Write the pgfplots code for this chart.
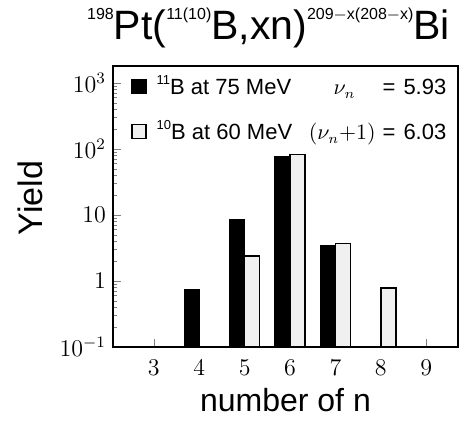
\documentclass[border=0pt]{standalone}
\usepackage{pgfplots}
\pgfplotsset{compat=1.18}
\usepackage{fontspec}
\setmainfont{Liberation Sans}
\newcommand{\sups}[1]{\raisebox{10pt}{\fontsize{8}{9}\selectfont #1}}
\newcommand{\lsup}[1]{\raisebox{5pt}{\fontsize{6.5}{7}\selectfont #1}}
\begin{document}
\begin{tikzpicture}
\useasboundingbox (0,0) rectangle (234.5pt,212pt);
\begin{axis}[
  at={(56.5pt,38.5pt)}, anchor=south west,
  scale only axis, width=172.5pt, height=140.5pt,
  ymode=log, log origin=infty,
  xmin=2.1, xmax=9.7, ymin=0.1, ymax=1810,
  ybar, bar width=0.33,
  xtick={3,4,5,6,7,8,9},
  ytick={0.1,1,10,100,1000},
  yticklabels={$10^{-1}$,$1$,$10$,$10^{2}$,$10^{3}$},
  tick pos=left, tick align=inside,
  axis line style={line width=0.8pt},
  major tick length=4pt, minor tick length=2pt,
  yticklabel style={font=\fontsize{12}{14}\selectfont},
  xticklabel style={font=\fontsize{13}{15}\selectfont, yshift=-3pt},
  xlabel={number of n},
  ylabel={Yield},
  xlabel style={font=\fontsize{16}{18}\selectfont, at={(axis description cs:0.5,-0.189)}, anchor=center},
  ylabel style={font=\fontsize{17}{19}\selectfont, at={(axis description cs:-0.241,0.53)}, anchor=center},
  title={\sups{198}Pt(\sups{11(10)}B,xn)\sups{209$-$x(208$-$x)}Bi},
  title style={font=\fontsize{20.5}{22}\selectfont, at={(axis description cs:0.451,1.05)}, anchor=base},
  legend style={draw=none, fill=none, at={(axis description cs:0.035,0.995)}, anchor=north west,
    font=\fontsize{11}{13}\selectfont, row sep=7.5pt},
  legend cell align=left,
  legend image code/.code={\draw[#1,line width=0.6pt] (0pt,-3.5pt) rectangle (7pt,3.5pt);},
]
\addplot[fill=black, draw=black, line width=0.6pt, bar shift=-0.165] coordinates {(4,0.73) (5,8.6) (6,76) (7,3.5)};
\addlegendentry{\hspace{3pt}\makebox[79.5pt][l]{\lsup{11}B at 75 MeV}\makebox[30pt][l]{\hspace{9pt}\fontsize{10.5}{12}\selectfont$\nu_n$}\hspace{3.5pt}=\hspace{4pt}5.93}
\addplot[fill=gray!12, draw=black, line width=0.8pt, bar shift=0.165] coordinates {(5,2.4) (6,83) (7,3.7) (8,0.78)};
\addlegendentry{\hspace{3pt}\makebox[79.5pt][l]{\lsup{10}B at 60 MeV}\makebox[30pt][r]{\fontsize{10.5}{12}\selectfont$(\nu_n{+}1)$}\hspace{3.5pt}=\hspace{4pt}6.03}
\end{axis}
\end{tikzpicture}
\end{document}
